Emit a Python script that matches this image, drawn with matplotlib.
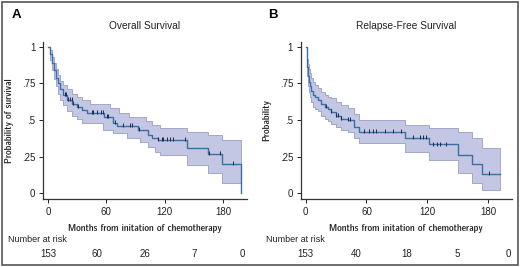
import numpy as np
import matplotlib
matplotlib.use("Agg")
import matplotlib.pyplot as plt
import matplotlib.transforms as mtransforms
import matplotlib.font_manager as fm
from matplotlib.patches import Rectangle

plt.rcParams['font.family'] = ['Liberation Sans', 'DejaVu Sans']

# Panel A - overall survival (step curve)
os_t = [0, 2, 4, 6, 8, 10, 12, 15, 20, 25, 30, 35, 40, 58, 67, 71, 93, 103, 107, 113, 143, 165, 179, 198]
os_s = [1.0, .95, .89, .84, .79, .75, .71, .67, .64, .61, .59, .565, .55, .52, .477, .46, .43, .40, .375, .363, .306, .27, .20, 0.0]
# confidence band
os_band_t = [0, 2, 4, 6, 8, 10, 12, 15, 20, 25, 30, 35, 43, 57, 64, 67, 73, 81, 83, 95, 101, 103, 107, 110, 115, 143, 165, 179]
os_lo = [1.0, .91, .84, .78, .73, .68, .64, .60, .56, .53, .51, .48, .477, .43, .43, .41, .41, .375, .375, .35, .35, .317, .317, .283, .26, .19, .135, .07]
os_hi = [1.0, .98, .93, .89, .85, .81, .77, .74, .71, .68, .66, .64, .61, .61, .58, .58, .546, .546, .52, .52, .49, .49, .466, .466, .447, .42, .40, .36]
os_end = 198
os_cens = [17.5, 19, 21, 22.6, 24.4, 26, 31, 45, 46.6, 50, 55, 56.9, 60.3, 62, 69, 77.5, 84, 86, 94,
           113.5, 117, 118.6, 122, 125.5, 129, 141, 166, 177, 190]
os_risk = [153, 60, 26, 7, 0]

# Panel B - relapse-free survival
rfs_t = [0, 1, 2, 3, 4, 5.5, 7, 9, 12, 15, 18.7, 22, 25, 30, 35, 42, 48, 53, 98, 122, 150.6, 164, 174]
rfs_s = [1.0, .86, .80, .76, .73, .70, .67, .655, .64, .61, .59, .575, .557, .53, .51, .50, .454, .42, .38, .333, .26, .197, .13]
rfs_lo = [1.0, .80, .73, .69, .66, .62, .59, .575, .56, .53, .51, .49, .475, .45, .43, .42, .38, .345, .28, .226, .135, .068, .02]
rfs_hi = [1.0, .92, .88, .85, .82, .79, .76, .74, .72, .69, .67, .66, .65, .62, .60, .58, .54, .50, .466, .443, .416, .375, .31]
rfs_end = 192
rfs_cens = [20, 25, 30, 32, 35, 42, 43.5, 58, 63, 66.4, 69.7, 78, 86, 94.4, 106, 112.7, 116, 118.7,
            126, 129.4, 132.6, 138.5, 181]
rfs_risk = [153, 40, 18, 5, 0]

risk_months = [0, 50, 100, 150, 200]

line_col = '#3b6ea5'
band_col = '#c4c7e3'
band_edge = '#979ec6'
cens_col = '#1c2946'

# axis titles in the original use a condensed face; take one if the system has it
narrow_file = None
for f in fm.fontManager.ttflist:
    if 'Narrow' in f.name or 'condensed' in str(f.stretch):
        if 'Bold' in f.fname or 'Italic' in f.fname or 'Oblique' in f.fname:
            continue
        narrow_file = f.fname
        if 'Liberation' in f.name:
            break
if narrow_file:
    lab_font = fm.FontProperties(fname=narrow_file, size=7.1)
else:
    lab_font = fm.FontProperties(family='Liberation Sans', size=6.2)

fig = plt.figure(figsize=(5.2, 2.67), dpi=100)

panels = [
    dict(rect=[43/520, 68/267, 204/520, 157/267], xlim=(-5.1, 204.6), t=os_t, s=os_s,
         bt=os_band_t, lo=os_lo, hi=os_hi, end=os_end, cens=os_cens, risk=os_risk,
         title='Overall Survival', ylabel='Probability of survival', letter='A', lx=12, nx=8),
    dict(rect=[300.7/520, 68/267, 211/520, 157/267], xlim=(-4.9, 203.4), t=rfs_t, s=rfs_s,
         bt=rfs_t, lo=rfs_lo, hi=rfs_hi, end=rfs_end, cens=rfs_cens, risk=rfs_risk,
         title='Relapse-Free Survival', ylabel='Probability', letter='B', lx=268, nx=266),
]

for p in panels:
    ax = fig.add_axes(p['rect'])
    bt = list(p['bt']) + [p['end']]
    lo = list(p['lo']) + [p['lo'][-1]]
    hi = list(p['hi']) + [p['hi'][-1]]
    ax.fill_between(bt, lo, hi, step='post', facecolor=band_col, edgecolor=band_edge, lw=0.6)

    t = list(p['t'])
    s = list(p['s'])
    if t[-1] != p['end']:
        t = t + [p['end']]
        s = s + [s[-1]]
    ax.step(t, s, where='post', color=line_col, lw=1.0)

    # censoring ticks sit on the curve
    idx = np.searchsorted(p['t'], p['cens'], side='right') - 1
    cy = np.array(p['s'])[idx]
    ax.plot(p['cens'], cy + 0.006, ls='none', marker='|', ms=2.6, mew=0.7, color=cens_col)

    ax.set_xlim(*p['xlim'])
    ax.set_ylim(-0.041, 1.034)
    ax.set_xticks([0, 60, 120, 180])
    ax.set_yticks([0, .25, .5, .75, 1])
    ax.set_yticklabels(['0', '.25', '.5', '.75', '1'])
    ax.tick_params(labelsize=7, length=3, width=0.7, pad=2.5, colors='#222222')
    for side in ['top', 'right']:
        ax.spines[side].set_visible(False)
    for side in ['left', 'bottom']:
        ax.spines[side].set_linewidth(0.9)
        ax.spines[side].set_color('#333333')

    ax.set_ylabel(p['ylabel'], fontproperties=lab_font, labelpad=6, color='#222222')
    ax.set_xlabel('Months from initation of chemotherapy', fontproperties=lab_font,
                  labelpad=5, color='#222222')
    ax.set_title(p['title'], fontsize=7.3, pad=9, color='#222222')

    fig.text(p['lx']/520, 1 - 15/267, p['letter'], fontsize=9.5, fontweight='bold', va='center')
    fig.text(p['nx']/520, 1 - 240/267, 'Number at risk', fontsize=6.5, va='center', color='#222222')
    trans = mtransforms.blended_transform_factory(ax.transData, fig.transFigure)
    for m, n in zip(risk_months, p['risk']):
        ax.text(m, 1 - 254/267, str(n), transform=trans, ha='center', va='center',
                fontsize=7, color='#222222', clip_on=False)

fig.patches.append(Rectangle((2/520, 2/267), 516/520, 263/267, transform=fig.transFigure,
                             fill=False, edgecolor='#555555', lw=1.2))

fig.savefig('out.png', dpi=100)
